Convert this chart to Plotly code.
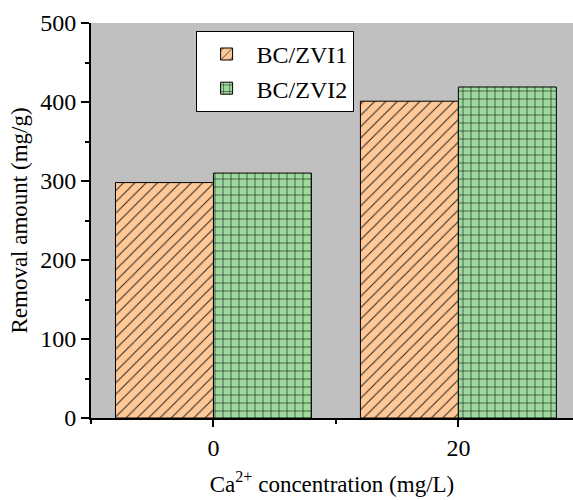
import plotly.graph_objects as go

# Ca2+ concentration (mg/L) and removal amounts (mg/g)
ca_conc = [0, 20]
bc_zvi1 = [298, 401]
bc_zvi2 = [310, 419]
series_names = ["BC/ZVI1", "BC/ZVI2"]

FONT = "Liberation Serif"
ORANGE = "#FFC896"
GREEN = "#9DD89D"

fig = go.Figure()
fig.add_trace(go.Bar(
    x=ca_conc, y=bc_zvi1, name=series_names[0],
    marker=dict(
        color=ORANGE,
        line=dict(color="black", width=1),
        pattern=dict(shape="/", size=8, solidity=0.12,
                     fgcolor="#222222", bgcolor=ORANGE, fillmode="replace"),
    ),
))
fig.add_trace(go.Bar(
    x=ca_conc, y=bc_zvi2, name=series_names[1],
    marker=dict(
        color=GREEN,
        line=dict(color="black", width=1),
        pattern=dict(shape="+", size=8, solidity=0.14,
                     fgcolor="#111111", bgcolor=GREEN, fillmode="replace"),
    ),
))

fig.update_layout(
    width=573, height=500,
    margin=dict(l=91, r=0, t=23, b=82),
    paper_bgcolor="white",
    plot_bgcolor="#C0C0C0",
    barmode="group", bargap=0.2, bargroupgap=0,
    font=dict(family=FONT, size=23, color="black"),
    legend=dict(
        x=0.217, y=0.98, xanchor="left", yanchor="top",
        bgcolor="white", bordercolor="black", borderwidth=1,
        font=dict(family=FONT, size=24),
        itemwidth=50,
        tracegroupgap=0,
    ),
    xaxis=dict(
        range=[-10, 29.36],
        tickmode="array", tickvals=[0, 20], ticktext=["0", "20"],
        ticks="outside", ticklen=7, tickwidth=1.5, tickcolor="black",
        minor=dict(tickmode="array", tickvals=[-10, 10, 30], ticks="outside",
                   ticklen=4, tickwidth=1.5, tickcolor="black"),
        showline=True, linecolor="black", linewidth=2,
        showgrid=False, zeroline=False,
        tickfont=dict(family=FONT, size=24),
        title=dict(text="Ca<sup>2+</sup> concentration (mg/L)",
                   font=dict(family=FONT, size=23), standoff=16),
    ),
    yaxis=dict(
        range=[0, 500],
        tickmode="linear", tick0=0, dtick=100,
        ticks="outside", ticklen=8, tickwidth=1.5, tickcolor="black",
        minor=dict(tick0=0, dtick=50, ticks="outside", ticklen=4,
                   tickwidth=1.5, tickcolor="black"),
        showline=True, linecolor="black", linewidth=2,
        showgrid=False, zeroline=False,
        tickfont=dict(family=FONT, size=24),
        title=dict(text="Removal amount (mg/g)",
                   font=dict(family=FONT, size=23), standoff=6),
    ),
)

fig.write_html("out.html")
